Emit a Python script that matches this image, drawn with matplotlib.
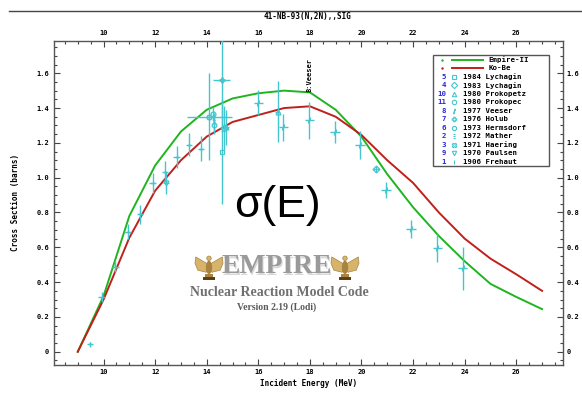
import matplotlib
matplotlib.use("Agg")
import matplotlib.pyplot as plt
from matplotlib.lines import Line2D
from matplotlib.patches import Polygon, Ellipse, Rectangle
from matplotlib.ticker import MultipleLocator, FuncFormatter

# ---- data ----
energy_grid = [9.0, 10, 11, 12, 13, 14, 15, 16, 17, 18, 19, 20, 21, 22, 23, 24, 25, 26, 27]
empire_ii = [0.0, 0.32, 0.78, 1.07, 1.265, 1.39, 1.455, 1.485, 1.50, 1.49, 1.39, 1.235,
             1.02, 0.83, 0.665, 0.52, 0.39, 0.315, 0.245]
ko_be = [0.0, 0.30, 0.655, 0.925, 1.10, 1.236, 1.32, 1.36, 1.40, 1.41, 1.35, 1.245,
         1.10, 0.97, 0.80, 0.65, 0.535, 0.445, 0.35]

frehaut_e = [9.48, 9.93, 10.45, 10.94, 11.41, 11.91, 12.38, 12.84, 13.31, 13.78]
frehaut_s = [0.042, 0.316, 0.489, 0.69, 0.79, 0.97, 1.035, 1.12, 1.19, 1.165]
frehaut_ds = [0.015, 0.03, 0.03, 0.045, 0.055, 0.058, 0.06, 0.062, 0.067, 0.072]

veeser_e = [16.0, 16.97, 17.98, 18.97, 19.94, 20.95, 21.92, 22.94, 23.92]
veeser_s = [1.43, 1.29, 1.33, 1.264, 1.19, 0.93, 0.705, 0.598, 0.479]
veeser_ds = [0.072, 0.077, 0.105, 0.062, 0.08, 0.048, 0.053, 0.081, 0.125]

paulsen_e, paulsen_s, paulsen_ds = [12.42], [0.97], [0.065]
haering_e, haering_s, haering_ds, haering_de = [14.1], [1.35], [0.25], [0.87]
prokopec_e, prokopec_s, prokopec_ds = [14.26], [1.366], [0.04]
hermsdorf_e, hermsdorf_s, hermsdorf_ds = [14.28], [1.30], [0.05]
mather_e, mather_s, mather_ds = [14.28], [1.32], [0.05]
holub_e, holub_s, holub_ds, holub_de = [14.58], [1.56], [0.3], [0.32]
lych84_e, lych84_s, lych84_ds = [14.58], [1.15], [0.3]
lych83_e, lych83_s, lych83_ds = [14.68, 20.56], [1.284, 1.05], [0.125, 0.015]
prokopetz_e, prokopetz_s, prokopetz_ds = [14.75, 16.75], [1.29, 1.38], [0.1, 0.177]

legend_nums = ["5", "4", "10", "11", "8", "7", "6", "2", "3", "9", "1"]
legend_marks = ["s", "D", "^", "o", r"$/$", "P", "8", r"$\Xi$", "X", "v", "|"]
legend_names = ["1984 Lychagin", "1983 Lychagin", "1980 Prokopetz", "1980 Prokopec",
                "1977 Veeser", "1976 Holub", "1973 Hermsdorf", "1972 Mather",
                "1971 Haering", "1970 Paulsen", "1906 Frehaut"]

W, H = 582, 393
CYAN = "#45c6cf"
GREEN = "#1fb51f"
RED = "#c0201c"
mono = "DejaVu Sans Mono"


def fx(x):
    return x / W


def fy(y):
    return 1 - y / H


fig = plt.figure(figsize=(W / 100, H / 100), dpi=100)
ax = fig.add_axes([fx(53.5), fy(365), fx(562.7) - fx(53.5), fy(40.5) - fy(365)])

# model curves
ax.plot(energy_grid, empire_ii, color=GREEN, lw=1.4, zorder=3)
ax.plot(energy_grid, ko_be, color=RED, lw=1.4, zorder=3)

# experimental data
pt = dict(color=CYAN, mfc="none", ms=3.5, mew=0.9, elinewidth=1.0, capsize=0,
          ls="none", zorder=4)
ax.errorbar(frehaut_e, frehaut_s, yerr=frehaut_ds, xerr=0.13, marker="+", **pt)
ax.errorbar(veeser_e, veeser_s, yerr=veeser_ds, xerr=0.18, marker=r"$/$", **pt)
ax.errorbar(paulsen_e, paulsen_s, yerr=paulsen_ds, xerr=0.1, marker="v", **pt)
ax.errorbar(haering_e, haering_s, yerr=haering_ds, xerr=haering_de, marker="X", **pt)
ax.errorbar(prokopec_e, prokopec_s, yerr=prokopec_ds, marker="o", **pt)
ax.errorbar(hermsdorf_e, hermsdorf_s, yerr=hermsdorf_ds, marker="8", **pt)
ax.errorbar(mather_e, mather_s, yerr=mather_ds, marker=r"$\Xi$", **pt)
ax.errorbar(holub_e, holub_s, yerr=holub_ds, xerr=holub_de, marker="P", **pt)
ax.errorbar(lych84_e, lych84_s, yerr=lych84_ds, marker="s", **pt)
ax.errorbar(lych83_e, lych83_s, yerr=lych83_ds, xerr=0.1, marker="D", **pt)
ax.errorbar(prokopetz_e, prokopetz_s, yerr=prokopetz_ds, xerr=0.1, marker="^", **pt)

ax.text(veeser_e[2], 1.495, "8:Veeser", rotation=90, ha="center", va="bottom",
        fontsize=5, family=mono, weight="bold", zorder=5)

ax.set_xlim(8.06, 27.8)
ax.set_ylim(-0.076, 1.788)
ax.xaxis.set_major_locator(MultipleLocator(2))
ax.xaxis.set_minor_locator(MultipleLocator(0.5))
ax.yaxis.set_major_locator(MultipleLocator(0.2))
ax.yaxis.set_minor_locator(MultipleLocator(0.05))
ax.yaxis.set_major_formatter(FuncFormatter(lambda v, p: "0" if abs(v) < 1e-9 else f"{v:.1f}"))
ax.xaxis.set_major_formatter(FuncFormatter(lambda v, p: f"{v:.0f}"))
ax.tick_params(which="both", direction="in", top=True, right=True,
               labeltop=True, labelright=True, color="#444", width=0.8)
ax.tick_params(which="major", length=4, labelsize=5, pad=3)
ax.tick_params(which="minor", length=2.2)
for lab in ax.get_xticklabels() + ax.get_yticklabels():
    lab.set_family(mono)
    lab.set_weight("bold")
for s in ax.spines.values():
    s.set_color("#555")
    s.set_linewidth(1.0)

ax.set_xlabel("Incident Energy (MeV)", fontsize=5.5, family=mono, weight="bold", labelpad=3)
ax.set_ylabel("Cross Section (barns)", fontsize=5.5, family=mono, weight="bold", labelpad=12)

# title and top rule
fig.text(fx(307.5), fy(16), "41-NB-93(N,2N),,SIG", ha="center", va="center",
         fontsize=5.5, family=mono, weight="bold")
fig.add_artist(Line2D([fx(9), 1], [fy(11), fy(11)], color="#444", lw=1))

# legend box drawn by hand
fig.add_artist(Rectangle((fx(432.7), fy(166)), fx(549.3) - fx(432.7), fy(55) - fy(166),
                         transform=fig.transFigure, fc="white", ec="#555", lw=1, zorder=6))
row0, step = 60.0, 8.47
for i, (col, name) in enumerate([(GREEN, "Empire-II"), (RED, "Ko-Be")]):
    yy = row0 + i * step
    fig.add_artist(Line2D([fx(451.7), fx(483.3)], [fy(yy), fy(yy)], color=col, lw=1.4, zorder=7))
    fig.add_artist(Line2D([fx(442)], [fy(yy)], marker=".", ms=1.5, color=col, zorder=7))
    fig.text(fx(488.3), fy(yy), name, ha="left", va="center", fontsize=5.3,
             family=mono, weight="bold", zorder=7)
for i, (num, mk, name) in enumerate(zip(legend_nums, legend_marks, legend_names)):
    yy = row0 + (i + 2) * step
    fig.text(fx(446), fy(yy), num, ha="right", va="center", fontsize=5.3,
             family=mono, weight="bold", color="#2a2ad0", zorder=7)
    fig.add_artist(Line2D([fx(454)], [fy(yy)], marker=mk, ms=3.2, mfc="none", mew=0.8,
                          color=CYAN, zorder=7))
    fig.text(fx(463.3), fy(yy), name, ha="left", va="center", fontsize=5.3,
             family=mono, weight="bold", zorder=7)

# sigma(E) and EMPIRE logo
fig.text(fx(277.5), fy(205.5), "σ(E)", ha="center", va="center", fontsize=32,
         family="Liberation Sans")
fig.text(fx(278.2), fy(268.2), "EMPIRE", ha="center", va="center", fontsize=20,
         family="Liberation Serif", weight="bold", color="#d8d8d8")
fig.text(fx(276.7), fy(266.7), "EMPIRE", ha="center", va="center", fontsize=20,
         family="Liberation Serif", weight="bold", color="#9a9a9a")
fig.text(fx(279), fy(292.7), "Nuclear Reaction Model Code", ha="center", va="center",
         fontsize=10, family="Liberation Serif", weight="bold", color="#707070")
fig.text(fx(276.7), fy(306.7), "Version 2.19 (Lodi)", ha="center", va="center",
         fontsize=7, family="Liberation Serif", weight="bold", color="#5a5a5a")


def draw_eagle(cx, cy, r=14):
    def p(u, v):
        return (fx(cx + u * r), fy(cy - v * r))
    gold, shade, dark = "#d6b46c", "#a98340", "#5e3f14"
    fig.add_artist(Polygon([p(-0.45, -1), p(0.45, -1), p(0.45, -0.75), p(-0.45, -0.75)],
                           closed=True, transform=fig.transFigure, fc=dark, ec="none"))
    fig.add_artist(Polygon([p(-0.3, -0.75), p(0.3, -0.75), p(0.3, -0.55), p(-0.3, -0.55)],
                           closed=True, transform=fig.transFigure, fc=shade, ec="none"))
    for sgn in (-1, 1):
        fig.add_artist(Polygon([p(sgn * 0.1, 0.15), p(sgn * 0.95, 0.65), p(sgn * 1.0, 0.2),
                                p(sgn * 0.8, -0.3), p(sgn * 0.2, -0.45)],
                               closed=True, transform=fig.transFigure, fc=gold, ec=shade, lw=0.5))
    fig.add_artist(Ellipse(p(0, -0.1), fx(0.45 * r), 0.95 * r / H,
                           transform=fig.transFigure, fc=shade, ec="none"))
    fig.add_artist(Ellipse(p(0, 0.55), fx(0.32 * r), 0.32 * r / H,
                           transform=fig.transFigure, fc=gold, ec=shade, lw=0.5))


draw_eagle(209, 266)
draw_eagle(345, 266)

fig.savefig("out.png", dpi=100)
